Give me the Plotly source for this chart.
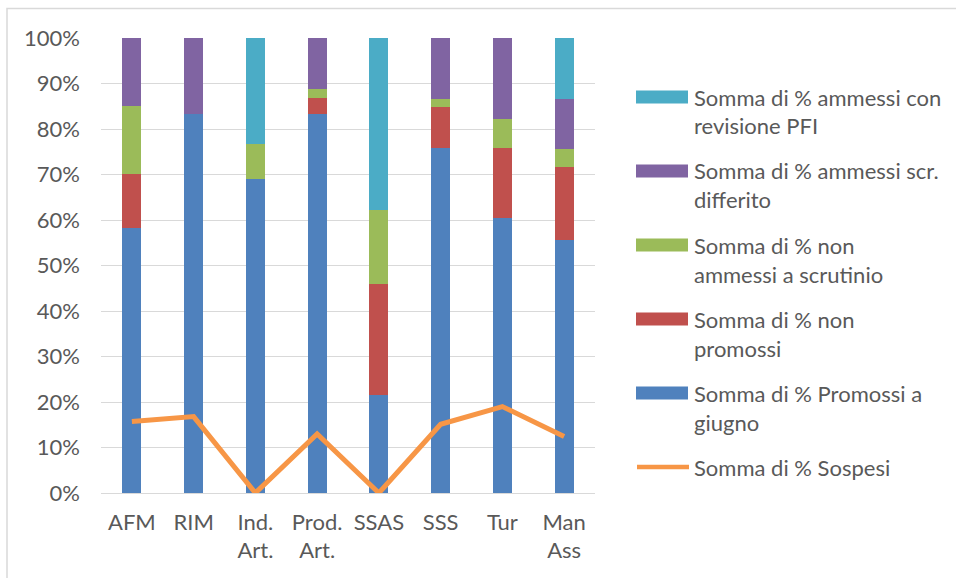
import plotly.graph_objects as go

# data (percentages)
categories = ["AFM", "RIM", "Ind.<br>Art.", "Prod.<br>Art.", "SSAS", "SSS", "Tur", "Man<br>Ass"]

promossi_giugno = [58.2, 83.4, 69.1, 83.3, 21.5, 75.9, 60.4, 55.7]
non_promossi = [11.9, 0.0, 0.0, 3.5, 24.4, 9.0, 15.5, 15.9]
non_ammessi = [14.9, 0.0, 7.7, 2.1, 16.2, 1.6, 6.3, 4.1]
ammessi_differito = [15.0, 16.6, 0.0, 11.1, 0.0, 13.5, 17.8, 11.0]
ammessi_pfi = [0.0, 0.0, 23.2, 0.0, 37.9, 0.0, 0.0, 13.3]
sospesi = [15.7, 16.8, 0.0, 13.0, 0.0, 15.1, 19.0, 12.4]

y_ticks = [0, 10, 20, 30, 40, 50, 60, 70, 80, 90, 100]
y_labels = [f"{v}%" for v in y_ticks]

bar_series = [
    ("Somma di % Promossi a giugno", promossi_giugno, "#4F81BD"),
    ("Somma di % non promossi", non_promossi, "#C0504D"),
    ("Somma di % non ammessi a scrutinio", non_ammessi, "#9BBB59"),
    ("Somma di % ammessi scr. differito", ammessi_differito, "#8064A2"),
    ("Somma di % ammessi con revisione PFI", ammessi_pfi, "#4BACC6"),
]
line_color = "#F79646"

# legend entries, top to bottom, wrapped as in the picture
legend_items = [
    (["Somma di % ammessi con", "revisione PFI"], "#4BACC6", "bar"),
    (["Somma di % ammessi scr.", "differito"], "#8064A2", "bar"),
    (["Somma di % non", "ammessi a scrutinio"], "#9BBB59", "bar"),
    (["Somma di % non", "promossi"], "#C0504D", "bar"),
    (["Somma di % Promossi a", "giugno"], "#4F81BD", "bar"),
    (["Somma di % Sospesi"], line_color, "line"),
]

W, H = 956, 578
L, R, T, B = 101, 361, 38, 85
font = dict(family="Lato, 'Open Sans', sans-serif", size=22, color="#595959")


def px(x):
    return (x - L) / (W - L - R)


def py(y):
    return (H - B - y) / (H - T - B)


fig = go.Figure()

for name, vals, col in bar_series:
    fig.add_trace(go.Bar(x=categories, y=vals, name=name,
                         marker=dict(color=col, line=dict(width=0))))

fig.add_trace(go.Scatter(x=categories, y=sospesi, name="Somma di % Sospesi",
                         mode="lines",
                         line=dict(color=line_color, width=5)))

fig.update_layout(
    width=W, height=H,
    barmode="stack",
    bargap=0.69,
    showlegend=False,
    plot_bgcolor="white",
    paper_bgcolor="white",
    margin=dict(l=L, r=R, t=T, b=B),
    font=font,
)

fig.update_yaxes(range=[0, 100], tickmode="array", tickvals=y_ticks, ticktext=y_labels,
                 showgrid=True, gridcolor="#D9D9D9", gridwidth=1.3,
                 zeroline=False, showline=False, ticks="",
                 ticklabelstandoff=20)
fig.update_xaxes(showgrid=False, showline=True, linecolor="#D9D9D9",
                 linewidth=1.3, ticks="", ticklabelstandoff=9)

# outer chart frame (only left and top edges are inside the picture)
fig.add_shape(type="rect", xref="paper", yref="paper",
              x0=px(7), x1=px(1000), y0=py(620), y1=py(8.5),
              line=dict(color="#D9D9D9", width=1.5), fillcolor="rgba(0,0,0,0)")

# legend drawn by hand to get the wide Excel-style swatches
y0 = 97
for i, (lines, col, kind) in enumerate(legend_items):
    yc = y0 + i * 74
    if kind == "bar":
        fig.add_shape(type="rect", xref="paper", yref="paper",
                      x0=px(636), x1=px(688), y0=py(yc + 6.5), y1=py(yc - 6.5),
                      line=dict(width=0), fillcolor=col)
    else:
        fig.add_shape(type="line", xref="paper", yref="paper",
                      x0=px(637), x1=px(689), y0=py(yc), y1=py(yc),
                      line=dict(color=col, width=4.5))
    for j, txt in enumerate(lines):
        fig.add_annotation(xref="paper", yref="paper", x=px(692), y=py(yc + j * 29),
                           xanchor="left", yanchor="middle", showarrow=False,
                           text=txt, font=font)

fig.write_html("out.html", config={"displayModeBar": False},
               post_script="document.body.style.margin='0';")
